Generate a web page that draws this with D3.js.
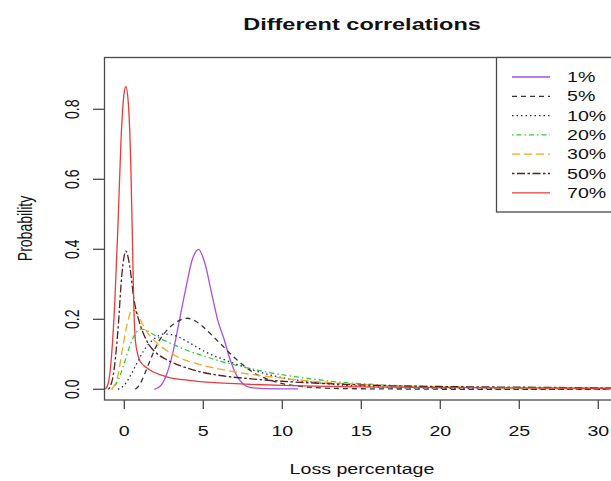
<!DOCTYPE html>
<html>
<head>
<meta charset="utf-8">
<script src="https://cdn.jsdelivr.net/npm/d3@7"></script>
<style>
  body { margin: 0; background: #fff; }
  text { font-family: "Liberation Sans", Arial, Helvetica, sans-serif; fill: #111; }
</style>
</head>
<body>
<div id="chart"></div>
<script>
// correlation levels shown in the legend
var correlations = ["1%", "5%", "10%", "20%", "30%", "50%", "70%"];

// density curves: [loss %, probability]
var rho01 = [[1.9,0],[2.3,0.01],[2.7,0.045],[3.1,0.11],[3.5,0.2],[3.9,0.29],[4.3,0.37],[4.7,0.4],[5.1,0.36],[5.5,0.28],[5.9,0.2],[6.3,0.145],[6.7,0.085],[7.1,0.04],[7.5,0.016],[8,0.005],[9,0.002],[11,0.001]];
var rho05 = [[0.7,0],[1.0,0.015],[1.3,0.045],[1.7,0.09],[2.1,0.13],[2.5,0.158],[3,0.182],[3.5,0.197],[4,0.203],[4.5,0.195],[5,0.178],[5.6,0.152],[6.2,0.125],[6.8,0.098],[7.5,0.07],[8.2,0.047],[9,0.03],[10,0.016],[11,0.009],[12,0.005],[14,0.002],[17,0.001],[22,0],[31,0]];
var rho10 = [[-0.4,0],[0,0.012],[0.4,0.04],[0.8,0.075],[1.2,0.108],[1.6,0.132],[2.0,0.148],[2.5,0.158],[3.0,0.156],[3.5,0.148],[4.0,0.136],[4.5,0.123],[5.0,0.11],[5.5,0.099],[6.0,0.09],[6.6,0.08],[7.5,0.065],[8.5,0.05],[9.5,0.038],[10.5,0.029],[12,0.02],[13.5,0.013],[15,0.009],[17,0.005],[20,0.003],[25,0.001],[31,0]];
var rho20 = [[-0.8,0],[-0.4,0.025],[0,0.075],[0.4,0.13],[0.8,0.165],[1.1,0.172],[1.5,0.166],[2,0.152],[2.7,0.136],[3.5,0.12],[4.3,0.106],[5,0.096],[5.8,0.084],[6.6,0.074],[7.5,0.064],[8.5,0.054],[9.5,0.045],[10.5,0.038],[12,0.029],[13.5,0.021],[15,0.016],[17,0.011],[20,0.007],[25,0.003],[31,0.001]];
var rho30 = [[-0.8,0],[-0.4,0.04],[-0.1,0.12],[0.2,0.19],[0.5,0.228],[0.8,0.218],[1.1,0.19],[1.5,0.16],[2,0.135],[2.7,0.11],[3.5,0.09],[4.3,0.077],[5,0.068],[5.8,0.06],[6.6,0.053],[7.5,0.046],[8.5,0.04],[10,0.032],[11.5,0.025],[13,0.019],[15,0.014],[17,0.01],[20,0.007],[25,0.004],[31,0.002]];
var rho50 = [[-1,0],[-0.7,0.04],[-0.4,0.17],[-0.15,0.33],[0.1,0.395],[0.35,0.35],[0.6,0.26],[0.9,0.2],[1.2,0.16],[1.6,0.125],[2,0.105],[2.7,0.084],[3.7,0.065],[4.8,0.05],[5.7,0.042],[6.6,0.036],[7.5,0.032],[8.5,0.028],[10,0.023],[12,0.018],[14,0.014],[17,0.01],[20,0.008],[25,0.006],[31,0.004]];
var rho70 = [[-1.2,0],[-1.0,0.02],[-0.8,0.1],[-0.6,0.25],[-0.4,0.47],[-0.2,0.72],[0,0.85],[0.1,0.865],[0.25,0.82],[0.4,0.66],[0.5,0.46],[0.6,0.24],[0.7,0.14],[0.85,0.1],[1,0.08],[1.4,0.062],[1.8,0.05],[2.4,0.04],[3,0.032],[4,0.026],[4.8,0.022],[5.7,0.019],[6.6,0.017],[8,0.014],[10,0.011],[12,0.009],[15,0.007],[20,0.005],[25,0.004],[31,0.003]];
var curves = [rho01, rho05, rho10, rho20, rho30, rho50, rho70];

var xTicks = [0, 5, 10, 15, 20, 25, 30];
var yTicks = [0, 0.2, 0.4, 0.6, 0.8];

// R-ish line styles
var colors = ["#a64ee8", "#333333", "#24246e", "#33cc33", "#f5a623", "#5a1c1c", "#e83a3a"];
var dashes = [null, "5,4", "1.5,3", "1.5,3,5,3", "8,4", "2.5,2.5,8,2.5", null];

var svgWidth = 611, svgHeight = 481;
var box = { left: 104.5, right: 619, top: 57.5, bottom: 400 };
var sx = 1.4; // the picture is stretched sideways, text too
var fs = 14;

var svg = d3.select("#chart").append("svg")
  .attr("width", svgWidth)
  .attr("height", svgHeight);

var x = d3.scaleLinear().domain([0, 30]).range([124.3, 598.3]);
var y = d3.scaleLinear().domain([0, 0.8]).range([389.3, 109.3]);

svg.append("clipPath").attr("id", "clip")
  .append("rect")
  .attr("x", box.left).attr("y", box.top)
  .attr("width", box.right - box.left).attr("height", box.bottom - box.top);

function stretchedText(tx, ty, str, rot) {
  return svg.append("text")
    .attr("transform", "translate(" + tx + "," + ty + ") scale(" + sx + ",1)" + (rot ? " rotate(" + rot + ")" : ""))
    .attr("text-anchor", "middle")
    .style("font-size", fs + "px")
    .text(str);
}

// curves
var line = d3.line()
  .x(d => x(d[0]))
  .y(d => y(d[1]))
  .curve(d3.curveMonotoneX);

var curveGroup = svg.append("g").attr("clip-path", "url(#clip)");
curves.forEach(function(c, i) {
  curveGroup.append("path")
    .datum(c)
    .attr("d", line)
    .attr("fill", "none")
    .attr("stroke", colors[i])
    .attr("stroke-width", 1.3)
    .attr("stroke-dasharray", dashes[i]);
});

// frame
svg.append("rect")
  .attr("x", box.left).attr("y", box.top)
  .attr("width", box.right - box.left).attr("height", box.bottom - box.top)
  .attr("fill", "none")
  .attr("stroke", "#4a4a4a")
  .attr("stroke-width", 1.3);

// x axis
var xAxis = svg.append("g");
xAxis.selectAll("line").data(xTicks).enter().append("line")
  .attr("x1", d => x(d)).attr("x2", d => x(d))
  .attr("y1", box.bottom).attr("y2", box.bottom + 9)
  .attr("stroke", "#4a4a4a").attr("stroke-width", 1.3);
xTicks.forEach(function(t) {
  stretchedText(x(t), 436, String(t));
});

// y axis
var yAxis = svg.append("g");
yAxis.selectAll("line").data(yTicks).enter().append("line")
  .attr("x1", box.left - 11.5).attr("x2", box.left)
  .attr("y1", d => y(d)).attr("y2", d => y(d))
  .attr("stroke", "#4a4a4a").attr("stroke-width", 1.3);
yTicks.forEach(function(t) {
  stretchedText(79, y(t), d3.format(".1f")(t), -90);
});

// titles
stretchedText(362, 30, "Different correlations").style("font-weight", "bold").style("font-size", "16.8px");
stretchedText(362, 474, "Loss percentage");
stretchedText(32, 228.5, "Probability", -90);

// legend
var legend = svg.append("g");
legend.append("rect")
  .attr("x", 496.5).attr("y", box.top)
  .attr("width", box.right - 496.5).attr("height", 212 - box.top)
  .attr("fill", "#fff")
  .attr("stroke", "#4a4a4a").attr("stroke-width", 1.3);
correlations.forEach(function(lab, i) {
  var ly = 77 + i * 19.3;
  legend.append("line")
    .attr("x1", 512).attr("x2", 550)
    .attr("y1", ly).attr("y2", ly)
    .attr("stroke", colors[i])
    .attr("stroke-width", 1.3)
    .attr("stroke-dasharray", dashes[i]);
  svg.append("text")
    .attr("transform", "translate(567," + (ly + 5) + ") scale(" + sx + ",1)")
    .style("font-size", fs + "px")
    .text(lab);
});
</script>
</body>
</html>
